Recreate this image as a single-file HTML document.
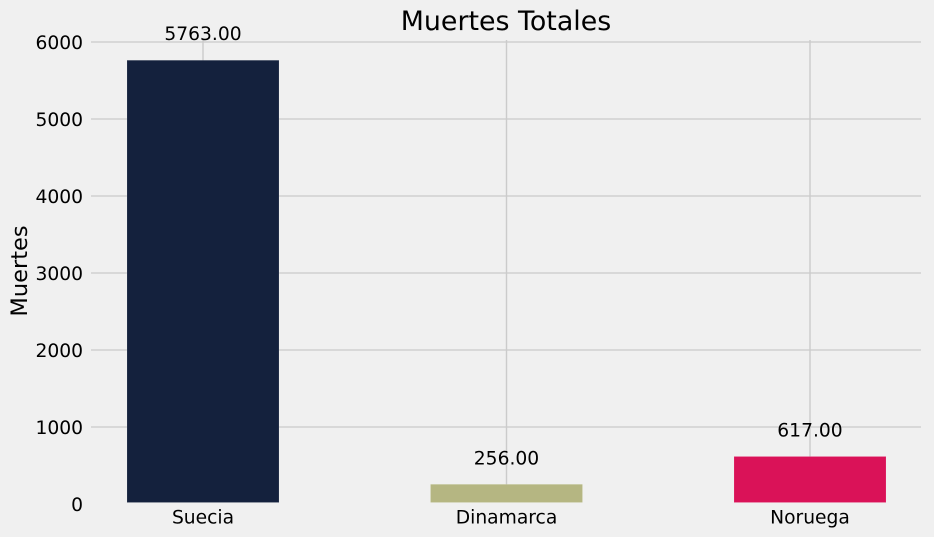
<!DOCTYPE html>
<html lang="es">
<head>
<meta charset="utf-8">
<title>Muertes Totales</title>
<style>
html,body{margin:0;padding:0;background:#f0f0f0;}
body{width:934px;height:537px;overflow:hidden;}
svg{display:block;}
text{font-family:"DejaVu Sans","Liberation Sans",sans-serif;fill:#000;}
</style>
</head>
<body>
<svg id="chart" xmlns="http://www.w3.org/2000/svg" width="934" height="537" viewBox="0 0 934 537">
<rect x="0" y="0" width="934" height="537" fill="#f0f0f0"/>
<text x="506" y="30" font-size="26.85" text-anchor="middle">Muertes Totales</text>
<text transform="translate(27 271) rotate(-90)" font-size="22.5" text-anchor="middle">Muertes</text>
<g id="grid"></g>
<g id="bars"></g>
<g id="labels"></g>
</svg>
<script>
const categories = ["Suecia", "Dinamarca", "Noruega"];
const deaths = [5763, 256, 617];
const printedValues = ["5763.00", "256.00", "617.00"];
const barColors = ["#14213d", "#b5b682", "#da1258"];
const yTicks = [0, 1000, 2000, 3000, 4000, 5000, 6000];

const svgNS = "http://www.w3.org/2000/svg";
const plotLeft = 91, plotRight = 921, plotTop = 40, plotBottom = 502.5;
const yZero = 504, pxPerUnit = 0.077;
const firstCenter = 203, bandStep = 303.5, barWidth = 152;

function xScale(i) { return firstCenter + i * bandStep; }
function yScale(v) { return yZero - v * pxPerUnit; }
function make(tag, attrs, parent) {
  const el = document.createElementNS(svgNS, tag);
  for (const k in attrs) el.setAttribute(k, attrs[k]);
  parent.appendChild(el);
  return el;
}

const grid = document.getElementById("grid");
const bars = document.getElementById("bars");
const labels = document.getElementById("labels");

yTicks.forEach(function (t) {
  const y = yScale(t);
  if (y <= plotBottom) {
    const line = make("line", {x1: plotLeft, x2: plotRight, y1: y, y2: y, stroke: "#d0d0d0", "stroke-width": 1.4}, grid);
    
    
  }
  const label = make("text", {x: 83, y: y + 6.8, "font-size": 18.7, "text-anchor": "end"}, labels);
  label.textContent = String(t);
  
  
});

categories.forEach(function (c, i) {
  const cx = xScale(i);
  const line = make("line", {x1: cx, x2: cx, y1: plotTop, y2: plotBottom, stroke: "#cbcbcb", "stroke-width": 1.4}, grid);
  
  

  const top = yScale(deaths[i]);
  const bar = make("rect", {x: cx - barWidth / 2, y: top, width: barWidth, height: Math.max(0, plotBottom - top), fill: barColors[i], stroke: "rgba(255,255,255,0.15)", "stroke-width": 0.8}, bars);
  
  

  const val = make("text", {x: cx, y: top - 20, "font-size": 18.7, "text-anchor": "middle"}, labels);
  val.textContent = printedValues[i];
  
  

  const cat = make("text", {x: cx, y: 523.5, "font-size": 18.7, "text-anchor": "middle"}, labels);
  cat.textContent = c;
  
  
});
</script>
</body>
</html>
